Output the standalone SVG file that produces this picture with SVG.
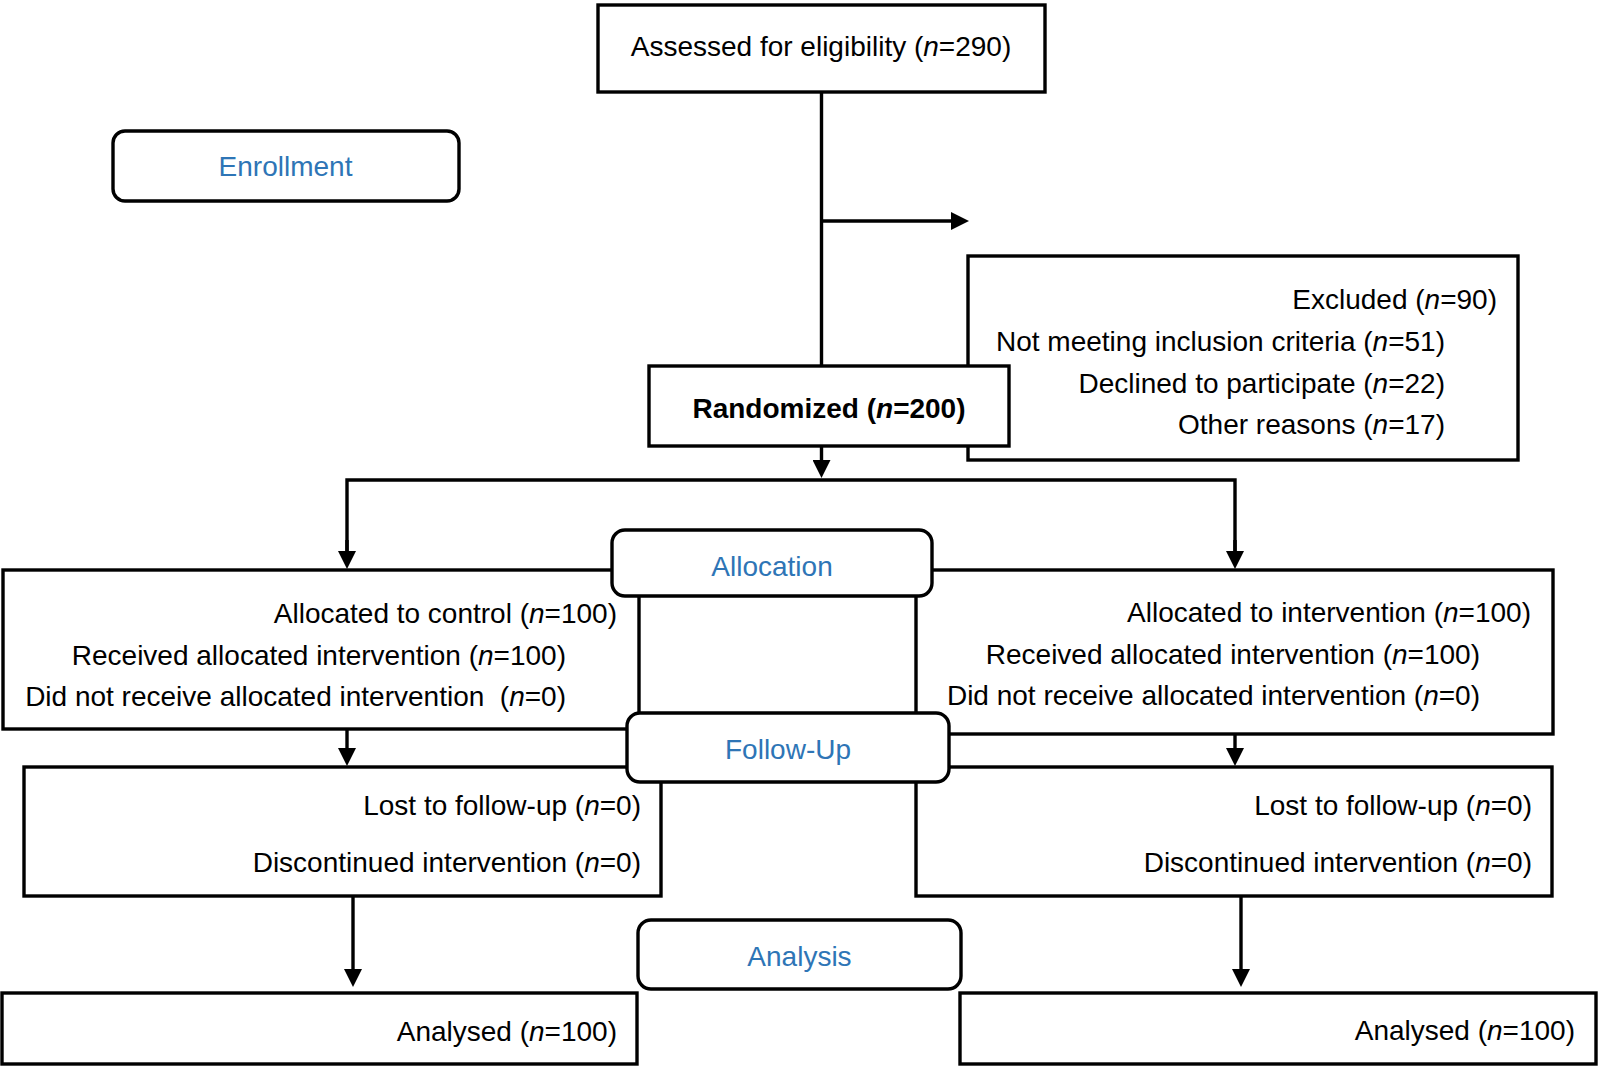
<svg xmlns="http://www.w3.org/2000/svg" width="1600" height="1068" viewBox="0 0 1600 1068">
<style>
  .box { fill: #ffffff; stroke: #000000; stroke-width: 3.4; }
  .lbl { fill: #ffffff; stroke: #000000; stroke-width: 3.4; }
  .t { font-family: "Liberation Sans", Arial, sans-serif; font-size: 28px; fill: #000000; }
  .r { text-anchor: end; }
  .m { text-anchor: middle; }
  .b { font-weight: bold; }
  .blue { fill: #2E75B6; }
  .i { font-style: italic; }
  .conn { fill: none; stroke: #000000; stroke-width: 3.4; }
</style>
<defs>
  <marker id="ah" viewBox="0 0 18 18" refX="12" refY="9" markerWidth="18" markerHeight="18" markerUnits="userSpaceOnUse" orient="auto">
    <path d="M0,0 L18,9 L0,18 z" fill="#000000"/>
  </marker>
</defs>
<rect width="1600" height="1068" fill="#ffffff"/>

<g id="connectors">
  <line class="conn" x1="821.5" y1="92" x2="821.5" y2="366"/>
  <line class="conn" x1="821.5" y1="221" x2="963" y2="221" marker-end="url(#ah)"/>
  <line class="conn" x1="821.5" y1="446" x2="821.5" y2="472" marker-end="url(#ah)"/>
  <polyline class="conn" points="347,563 347,480 1235,480 1235,563"/>
  <line class="conn" x1="347" y1="540" x2="347" y2="563" marker-end="url(#ah)"/>
  <line class="conn" x1="1235" y1="540" x2="1235" y2="563" marker-end="url(#ah)"/>
  <line class="conn" x1="347" y1="729" x2="347" y2="760" marker-end="url(#ah)"/>
  <line class="conn" x1="1235" y1="734" x2="1235" y2="760" marker-end="url(#ah)"/>
  <line class="conn" x1="353" y1="896" x2="353" y2="981" marker-end="url(#ah)"/>
  <line class="conn" x1="1241" y1="896" x2="1241" y2="981" marker-end="url(#ah)"/>
</g>

<g id="assessed">
  <rect class="box" x="598" y="5" width="447" height="87"/>
  <text class="t m" x="821" y="56">Assessed for eligibility (<tspan class="i">n</tspan>=290)</text>
</g>

<g id="enrollment">
  <rect class="lbl" x="113" y="131" width="346" height="70" rx="12"/>
  <text class="t m blue" x="285.5" y="175.5">Enrollment</text>
</g>

<g id="excluded">
  <rect class="box" x="968" y="256" width="550" height="204"/>
  <text class="t r" x="1497" y="309">Excluded (<tspan class="i">n</tspan>=90)</text>
  <text class="t r" x="1445" y="351">Not meeting inclusion criteria (<tspan class="i">n</tspan>=51)</text>
  <text class="t r" x="1445" y="392.5">Declined to participate (<tspan class="i">n</tspan>=22)</text>
  <text class="t r" x="1445" y="434">Other reasons (<tspan class="i">n</tspan>=17)</text>
</g>

<g id="randomized">
  <rect class="box" x="649" y="366" width="360" height="80"/>
  <text class="t m b" x="829" y="417.5">Randomized (<tspan class="i">n</tspan>=200)</text>
</g>

<g id="alloc-control">
  <rect class="box" x="3" y="570" width="636" height="159"/>
  <text class="t r" x="617" y="622.5">Allocated to control (<tspan class="i">n</tspan>=100)</text>
  <text class="t r" x="566" y="664.5">Received allocated intervention (<tspan class="i">n</tspan>=100)</text>
  <text class="t r" x="566" y="706">Did not receive allocated intervention&#160; (<tspan class="i">n</tspan>=0)</text>
</g>

<g id="alloc-intervention">
  <rect class="box" x="916" y="570" width="637" height="164"/>
  <text class="t r" x="1531" y="622">Allocated to intervention (<tspan class="i">n</tspan>=100)</text>
  <text class="t r" x="1480" y="663.5">Received allocated intervention (<tspan class="i">n</tspan>=100)</text>
  <text class="t r" x="1480" y="705">Did not receive allocated intervention (<tspan class="i">n</tspan>=0)</text>
</g>

<g id="allocation">
  <rect class="lbl" x="612" y="530" width="320" height="66" rx="13"/>
  <text class="t m blue" x="772" y="576">Allocation</text>
</g>

<g id="followup-control">
  <rect class="box" x="24" y="767" width="637" height="129"/>
  <text class="t r" x="641" y="815">Lost to follow-up (<tspan class="i">n</tspan>=0)</text>
  <text class="t r" x="641" y="872">Discontinued intervention (<tspan class="i">n</tspan>=0)</text>
</g>

<g id="followup-intervention">
  <rect class="box" x="916" y="767" width="636" height="129"/>
  <text class="t r" x="1532" y="815">Lost to follow-up (<tspan class="i">n</tspan>=0)</text>
  <text class="t r" x="1532" y="872">Discontinued intervention (<tspan class="i">n</tspan>=0)</text>
</g>

<g id="followup">
  <rect class="lbl" x="627" y="713" width="322" height="69" rx="13"/>
  <text class="t m blue" x="788" y="759">Follow-Up</text>
</g>

<g id="analysis">
  <rect class="lbl" x="638" y="920" width="323" height="69" rx="13"/>
  <text class="t m blue" x="799.5" y="966">Analysis</text>
</g>

<g id="analysed-control">
  <rect class="box" x="2" y="993" width="635" height="71"/>
  <text class="t r" x="617" y="1041">Analysed (<tspan class="i">n</tspan>=100)</text>
</g>

<g id="analysed-intervention">
  <rect class="box" x="960" y="993" width="636" height="71"/>
  <text class="t r" x="1575" y="1040">Analysed (<tspan class="i">n</tspan>=100)</text>
</g>
</svg>
